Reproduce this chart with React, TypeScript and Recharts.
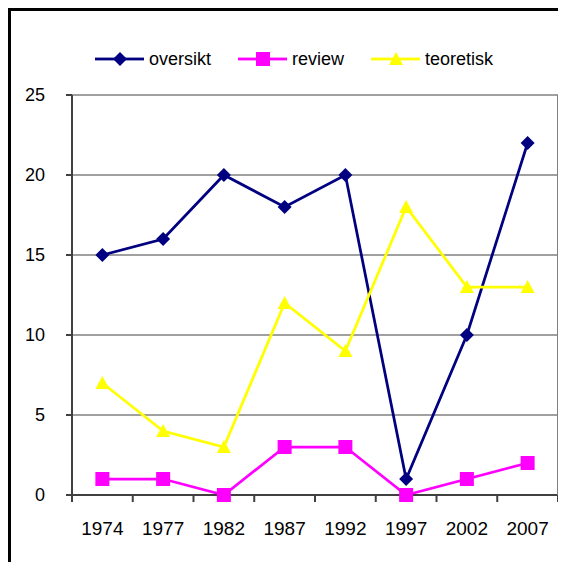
import React from "react";
import { LineChart, Line, XAxis, YAxis, CartesianGrid, Legend } from "recharts";

// Årstall og verdier
const years = ["1974", "1977", "1982", "1987", "1992", "1997", "2002", "2007"];
const oversikt = [15, 16, 20, 18, 20, 1, 10, 22];
const review = [1, 1, 0, 3, 3, 0, 1, 2];
const teoretisk = [7, 4, 3, 12, 9, 18, 13, 13];
const yTicks = [0, 5, 10, 15, 20, 25];

const data = years.map((year, i) => ({
  year,
  oversikt: oversikt[i],
  review: review[i],
  teoretisk: teoretisk[i],
}));

const NAVY = "#000080";
const MAGENTA = "#FF00FF";
const YELLOW = "#FFFF00";
const FONT = "Arial, 'Liberation Sans', sans-serif";

const W = 555;
const H = 551;
const MARGIN = { top: 36, right: 8, bottom: 7, left: 0 };
const LEGEND_H = 48;
const XAXIS_H = 60;
const YAXIS_W = 61;
const PLOT_X = MARGIN.left + YAXIS_W;
const PLOT_Y = MARGIN.top + LEGEND_H;
const PLOT_W = W - MARGIN.left - MARGIN.right - YAXIS_W;
const PLOT_H = H - MARGIN.top - MARGIN.bottom - LEGEND_H - XAXIS_H;

type Shape = "diamond" | "square" | "triangle";

const Marker = ({ cx, cy, shape, color }: { cx: number; cy: number; shape: Shape; color: string }) => {
  if (shape === "diamond") {
    return <polygon points={`${cx},${cy - 7} ${cx + 7},${cy} ${cx},${cy + 7} ${cx - 7},${cy}`} fill={color} />;
  }
  if (shape === "square") {
    return <rect x={cx - 7} y={cy - 7} width={14} height={14} fill={color} />;
  }
  return <polygon points={`${cx},${cy - 7} ${cx + 7},${cy + 6} ${cx - 7},${cy + 6}`} fill={color} />;
};

const makeDot = (shape: Shape, color: string) => (props: any) => {
  const { cx, cy, index } = props;
  if (cx == null || cy == null) return <g key={`e-${index}`} />;
  return <Marker key={`${shape}-${index}`} cx={cx} cy={cy} shape={shape} color={color} />;
};

const series = [
  { key: "oversikt", color: NAVY, shape: "diamond" as Shape },
  { key: "review", color: MAGENTA, shape: "square" as Shape },
  { key: "teoretisk", color: YELLOW, shape: "triangle" as Shape },
];

const XTick = (props: any) => {
  const { x, y, payload } = props;
  return (
    <text x={x} y={y + 40} textAnchor="middle" fontSize={19} fontFamily={FONT} fill="#000">
      {payload.value}
    </text>
  );
};

// Excel-lignende tikkmerker mellom kategoriene og høyre ramme, lagt oppå diagrammet
const Frame = () => (
  <svg width={W} height={H} style={{ position: "absolute", left: 0, top: 0, pointerEvents: "none" }}>
    <rect x={PLOT_X + PLOT_W - 1} y={PLOT_Y} width={2} height={PLOT_H} fill="#808080" />
    {years.concat([""]).map((_, i) => (
      <rect
        key={i}
        x={PLOT_X + (i * PLOT_W) / years.length - 1}
        y={PLOT_Y + PLOT_H}
        width={2}
        height={7}
        fill="#404040"
      />
    ))}
  </svg>
);

const LegendContent = () => (
  <div style={{ height: LEGEND_H, display: "flex", alignItems: "flex-start", paddingLeft: 84, fontFamily: FONT, fontSize: 18 }}>
    {series.map((s) => (
      <div key={s.key} style={{ display: "flex", alignItems: "center", height: 24, marginRight: 27 }}>
        <svg width={49} height={24}>
          <rect x={0} y={10.6} width={49} height={2.8} fill={s.color} />
          <Marker cx={25} cy={12} shape={s.shape} color={s.color} />
        </svg>
        <span style={{ marginLeft: 5, color: "#000" }}>{s.key}</span>
      </div>
    ))}
  </div>
);

const App: React.FC = () => {
  return (
    <div style={{ position: "relative", borderTop: "3px solid #000", borderLeft: "3px solid #000", width: W, height: H }}>
      <LineChart width={W} height={H} data={data} margin={MARGIN}>
        <CartesianGrid vertical={false} stroke="#808080" strokeWidth={1.5} />
        <XAxis
          dataKey="year"
          scale="band"
          height={XAXIS_H}
          tickLine={false}
          tickSize={0}
          tickMargin={0}
          axisLine={{ stroke: "#404040", strokeWidth: 2 }}
          tick={<XTick />}
          interval={0}
        />
        <YAxis
          domain={[0, 25]}
          ticks={yTicks}
          width={YAXIS_W}
          tickSize={6}
          tickMargin={21}
          tickLine={{ stroke: "#404040", strokeWidth: 2 }}
          axisLine={{ stroke: "#404040", strokeWidth: 2 }}
          tick={{ fontSize: 18, fontFamily: FONT, fill: "#000" }}
        />
        <Legend verticalAlign="top" align="left" wrapperStyle={{ left: 0, width: W }} content={<LegendContent />} />
        {series.map((s) => (
          <Line
            key={s.key}
            type="linear"
            dataKey={s.key}
            stroke={s.color}
            strokeWidth={2.75}
            dot={makeDot(s.shape, s.color)}
            activeDot={false}
            isAnimationActive={false}
          />
        ))}
      </LineChart>
      <Frame />
    </div>
  );
};

export default App;
